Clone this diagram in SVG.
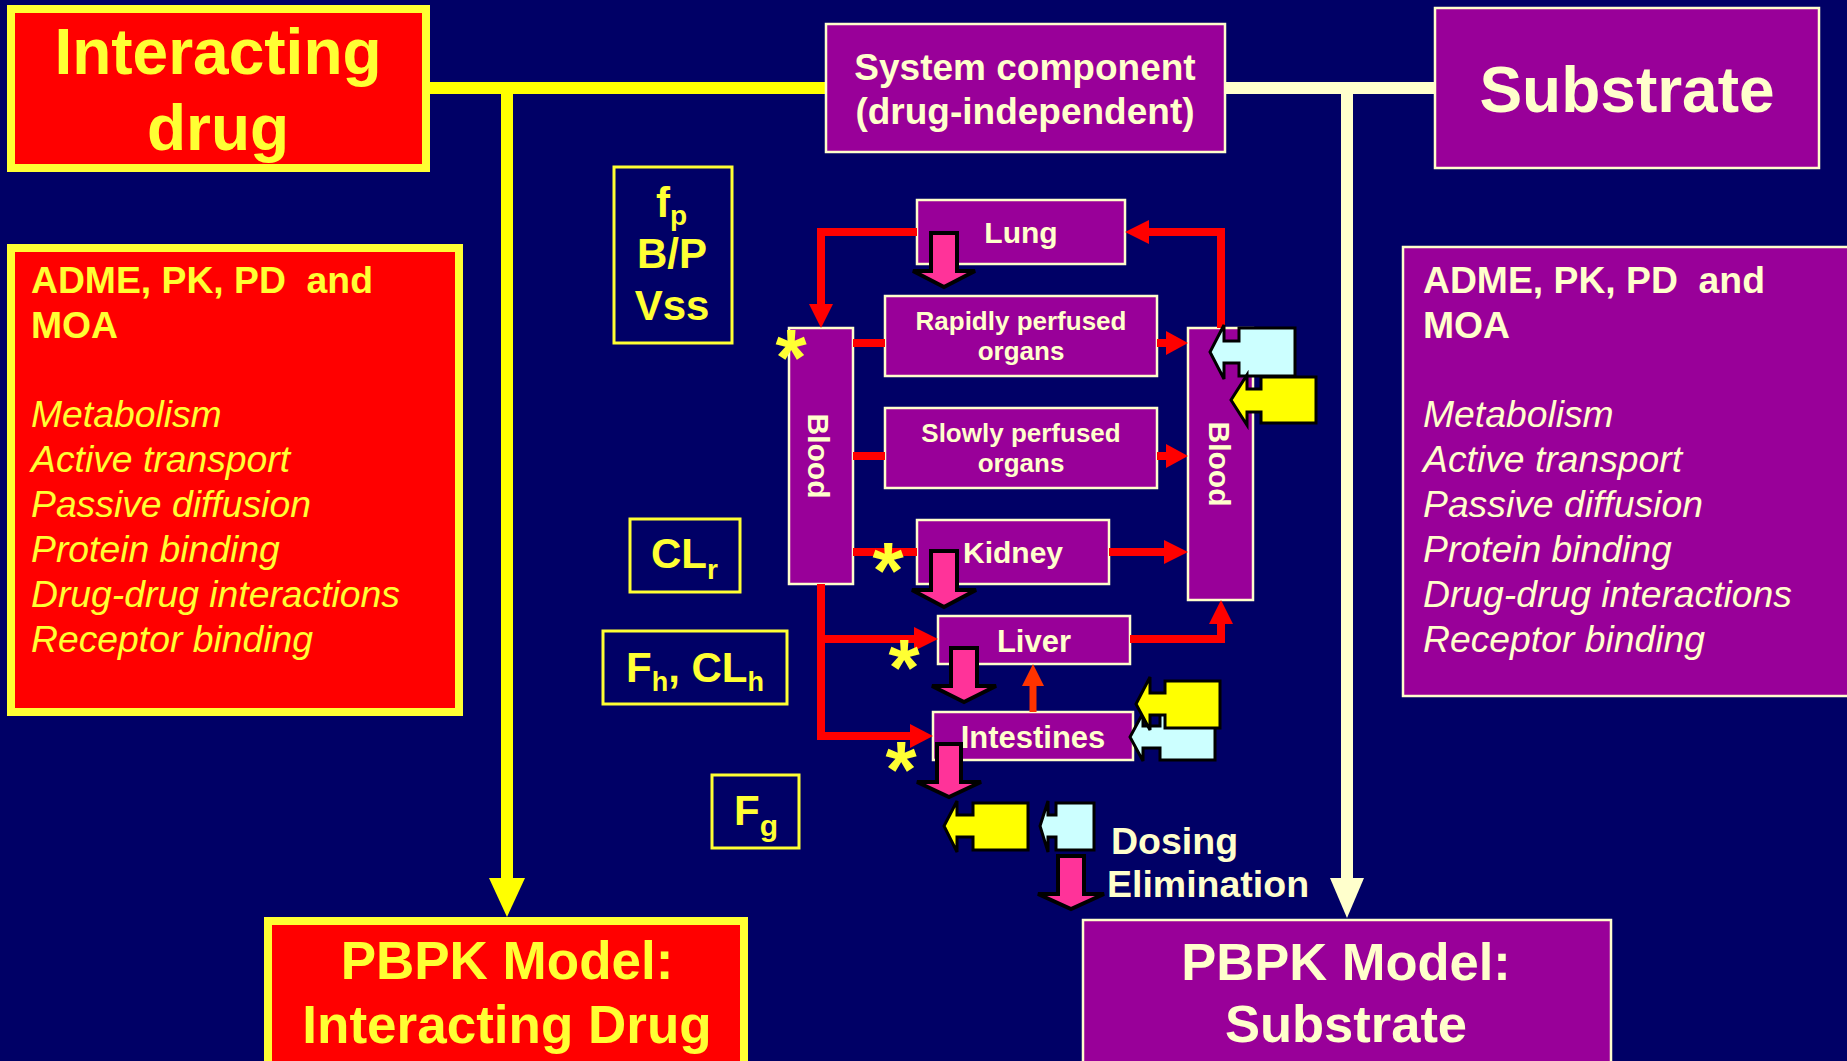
<svg xmlns="http://www.w3.org/2000/svg" width="1847" height="1061" viewBox="0 0 1847 1061">
  <defs>
    <style>
      .t { font-family: "Liberation Sans", Arial, sans-serif; font-weight: bold; }
      .it { font-family: "Liberation Sans", Arial, sans-serif; font-style: italic; font-weight: normal; }
      .yel { fill: #FFFF33; }
      .crm { fill: #FFFFCC; }
      .redbox { fill: #FF0000; stroke: #FFFF33; stroke-width: 8; }
      .purbox { fill: #990099; stroke: #FFFFCC; stroke-width: 2.5; }
      .param { fill: none; stroke: #FFFF33; stroke-width: 3; }
      .flow { fill: none; stroke: #FF0000; stroke-width: 8; }
      .head { fill: #FF0000; }
      .pink { fill: #FF3399; stroke: #000000; stroke-width: 4; stroke-linejoin: miter; }
      .dose-y { fill: #FFFF00; stroke: #000000; stroke-width: 3; }
      .dose-c { fill: #CCFFFF; stroke: #000000; stroke-width: 3; }
      .star { font-family: "Liberation Sans", Arial, sans-serif; font-weight: bold; font-size: 80px; fill: #FFFF33; text-anchor: middle; }
      .list { font-size: 37.3px; }
    </style>
  </defs>

  <rect x="0" y="0" width="1847" height="1061" fill="#000066"/>

  <!-- main links between the drug boxes and the model boxes -->
  <g id="connectors">
    <path d="M430 88 H826" stroke="#FFFF00" stroke-width="12" fill="none"/>
    <path d="M507 82 V880" stroke="#FFFF00" stroke-width="12" fill="none"/>
    <polygon points="489,878 525,878 507,917" fill="#FFFF00"/>
    <path d="M1225 88 H1435" stroke="#FFFFCC" stroke-width="12" fill="none"/>
    <path d="M1347 82 V880" stroke="#FFFFCC" stroke-width="12" fill="none"/>
    <polygon points="1330,878 1364,878 1347,918" fill="#FFFFCC"/>
  </g>

  <!-- drug and model boxes -->
  <g id="interacting-drug">
    <rect class="redbox" x="11" y="9" width="415" height="159"/>
    <text class="t yel" font-size="64" text-anchor="middle" x="218" y="74">Interacting</text>
    <text class="t yel" font-size="64" text-anchor="middle" x="218" y="150">drug</text>
  </g>

  <g id="system-component">
    <rect class="purbox" x="826" y="24" width="399" height="128"/>
    <text class="t crm" font-size="37" text-anchor="middle" x="1025" y="80">System component</text>
    <text class="t crm" font-size="37" text-anchor="middle" x="1025" y="124">(drug-independent)</text>
  </g>

  <g id="substrate">
    <rect class="purbox" x="1435" y="8" width="384" height="160"/>
    <text class="t crm" font-size="64" text-anchor="middle" x="1627" y="112">Substrate</text>
  </g>

  <g id="adme-interacting">
    <rect class="redbox" x="11" y="248" width="448" height="464"/>
    <text class="t yel list" x="31" y="293" xml:space="preserve">ADME, PK, PD  and</text>
    <text class="t yel list" x="31" y="338">MOA</text>
    <text class="it yel list" x="31" y="427">Metabolism</text>
    <text class="it yel list" x="31" y="472">Active transport</text>
    <text class="it yel list" x="31" y="517">Passive diffusion</text>
    <text class="it yel list" x="31" y="562">Protein binding</text>
    <text class="it yel list" x="31" y="607">Drug-drug interactions</text>
    <text class="it yel list" x="31" y="652">Receptor binding</text>
  </g>

  <g id="adme-substrate">
    <rect class="purbox" x="1403" y="247" width="470" height="449"/>
    <text class="t crm list" x="1423" y="293" xml:space="preserve">ADME, PK, PD  and</text>
    <text class="t crm list" x="1423" y="338">MOA</text>
    <text class="it crm list" x="1423" y="427">Metabolism</text>
    <text class="it crm list" x="1423" y="472">Active transport</text>
    <text class="it crm list" x="1423" y="517">Passive diffusion</text>
    <text class="it crm list" x="1423" y="562">Protein binding</text>
    <text class="it crm list" x="1423" y="607">Drug-drug interactions</text>
    <text class="it crm list" x="1423" y="652">Receptor binding</text>
  </g>

  <g id="pbpk-interacting">
    <rect class="redbox" x="268" y="921" width="476" height="200" stroke-width="7"/>
    <text class="t yel" font-size="53" text-anchor="middle" x="507" y="979">PBPK Model:</text>
    <text class="t yel" font-size="53" text-anchor="middle" x="507" y="1043">Interacting Drug</text>
  </g>

  <g id="pbpk-substrate">
    <rect class="purbox" x="1083" y="920" width="528" height="200"/>
    <text class="t crm" font-size="52.5" text-anchor="middle" x="1346" y="980">PBPK Model:</text>
    <text class="t crm" font-size="52.5" text-anchor="middle" x="1346" y="1042">Substrate</text>
  </g>

  <!-- parameter boxes -->
  <g id="param-distribution">
    <rect class="param" x="614" y="167" width="118" height="176"/>
    <text class="t yel" font-size="42" x="656" y="217">f<tspan font-size="28" dy="8">p</tspan></text>
    <text class="t yel" font-size="42" text-anchor="middle" x="672" y="268">B/P</text>
    <text class="t yel" font-size="42" text-anchor="middle" x="672" y="320">Vss</text>
  </g>

  <g id="param-renal">
    <rect class="param" x="630" y="519" width="110" height="73"/>
    <text class="t yel" font-size="42" x="651" y="568">CL<tspan font-size="28" dy="11">r</tspan></text>
  </g>

  <g id="param-hepatic">
    <rect class="param" x="603" y="631" width="184" height="73"/>
    <text class="t yel" font-size="42" x="626" y="682">F<tspan font-size="27" dy="9">h</tspan><tspan dy="-9">, CL</tspan><tspan font-size="27" dy="9">h</tspan></text>
  </g>

  <g id="param-gut">
    <rect class="param" x="712" y="775" width="87" height="73"/>
    <text class="t yel" font-size="42" x="734" y="825">F<tspan font-size="30" dy="11">g</tspan></text>
  </g>

  <!-- compartments of the physiological model -->
  <g id="lung">
    <rect class="purbox" x="917" y="200" width="208" height="64"/>
    <text class="t crm" font-size="30" text-anchor="middle" x="1021" y="243">Lung</text>
  </g>
  <g id="rapidly-perfused">
    <rect class="purbox" x="885" y="296" width="272" height="80"/>
    <text class="t crm" font-size="26" text-anchor="middle" x="1021" y="330">Rapidly perfused</text>
    <text class="t crm" font-size="26" text-anchor="middle" x="1021" y="360">organs</text>
  </g>
  <g id="slowly-perfused">
    <rect class="purbox" x="885" y="408" width="272" height="80"/>
    <text class="t crm" font-size="26" text-anchor="middle" x="1021" y="442">Slowly perfused</text>
    <text class="t crm" font-size="26" text-anchor="middle" x="1021" y="472">organs</text>
  </g>
  <g id="kidney">
    <rect class="purbox" x="917" y="520" width="192" height="64"/>
    <text class="t crm" font-size="30" text-anchor="middle" x="1013" y="563">Kidney</text>
  </g>
  <g id="liver">
    <rect class="purbox" x="938" y="616" width="192" height="48"/>
    <text class="t crm" font-size="31" text-anchor="middle" x="1034" y="652">Liver</text>
  </g>
  <g id="intestines">
    <rect class="purbox" x="933" y="712" width="200" height="48"/>
    <text class="t crm" font-size="31" text-anchor="middle" x="1033" y="748">Intestines</text>
  </g>
  <g id="venous-blood">
    <rect class="purbox" x="789" y="328" width="64" height="256"/>
    <text class="t crm" font-size="30" text-anchor="middle" transform="translate(808 456) rotate(90)">Blood</text>
  </g>
  <g id="arterial-blood">
    <rect class="purbox" x="1188" y="328" width="65" height="272"/>
    <text class="t crm" font-size="30" text-anchor="middle" transform="translate(1209 464) rotate(90)">Blood</text>
  </g>

  <!-- blood flow between compartments -->
  <g id="blood-flow">
    <path class="flow" d="M917 232 H821 V306"/>
    <polygon class="head" points="809,304 833,304 821,328"/>
    <path class="flow" d="M1221 328 V232 H1147"/>
    <polygon class="head" points="1149,220 1149,244 1125,232"/>
    <path class="flow" d="M853 343 H885"/>
    <path class="flow" d="M1157 343 H1168"/>
    <polygon class="head" points="1166,331 1166,355 1188,343"/>
    <path class="flow" d="M853 456 H885"/>
    <path class="flow" d="M1157 456 H1168"/>
    <polygon class="head" points="1166,444 1166,468 1188,456"/>
    <path class="flow" d="M853 552 H917"/>
    <path class="flow" d="M1109 552 H1166"/>
    <polygon class="head" points="1164,540 1164,564 1188,552"/>
    <path class="flow" d="M821 584 V736 H912"/>
    <polygon class="head" points="910,724 910,748 933,736"/>
    <path class="flow" d="M821 639 H916"/>
    <polygon class="head" points="914,627 914,651 938,639"/>
    <path class="flow" d="M1130 639 H1221 V622"/>
    <polygon class="head" points="1209,624 1233,624 1221,600"/>
    <path d="M1033 712 V684" stroke="#FF3300" stroke-width="7" fill="none"/>
    <polygon points="1022,686 1044,686 1033,664" fill="#FF3300"/>
  </g>

  <!-- elimination arrows -->
  <g id="elimination">
    <polygon class="pink" points="931,233 957,233 957,271 975,271 944,287 913,271 931,271"/>
    <polygon class="pink" points="931,551 957,551 957,590 976,590 944,607 912,590 931,590"/>
    <polygon class="pink" points="951,648 977,648 977,686 996,686 964,702 932,686 951,686"/>
    <polygon class="pink" points="937,744 961,744 961,782 981,782 949,797 917,782 937,782"/>
    <polygon class="pink" points="1058,856 1084,856 1084,894 1104,894 1071,909 1038,894 1058,894"/>
  </g>

  <!-- dosing arrows -->
  <g id="dosing">
    <polygon class="dose-c" points="1295,328 1239,328 1239,341 1224,341 1224,325 1210,352 1224,379 1224,363 1239,363 1239,376 1295,376"/>
    <polygon class="dose-y" points="1316,377 1261,377 1261,389 1247,389 1247,375 1231,400 1247,425 1247,412 1261,412 1261,423 1316,423"/>
    <polygon class="dose-c" points="1215,714 1160,714 1160,726 1143,726 1143,713 1130,737 1143,761 1143,748 1160,748 1160,760 1215,760"/>
    <polygon class="dose-y" points="1220,681 1165,681 1165,693 1150,693 1150,677 1136,704 1150,730 1150,715 1165,715 1165,728 1220,728"/>
    <polygon class="dose-y" points="1028,803 973,803 973,815 957,815 957,801 944,826 957,852 957,837 973,837 973,850 1028,850"/>
    <polygon class="dose-c" points="1094,803 1056,803 1056,815 1048,815 1048,801 1040,826 1048,852 1048,837 1056,837 1056,850 1094,850"/>
  </g>

  <!-- marks for sites of interaction -->
  <g id="interaction-marks">
    <text class="star" x="791" y="385">*</text>
    <text class="star" x="888" y="598">*</text>
    <text class="star" x="904" y="695">*</text>
    <text class="star" x="901" y="797">*</text>
  </g>

  <g id="legend">
    <text class="t crm" font-size="37.5" x="1111" y="854">Dosing</text>
    <text class="t crm" font-size="37.5" x="1107" y="897">Elimination</text>
  </g>
</svg>
